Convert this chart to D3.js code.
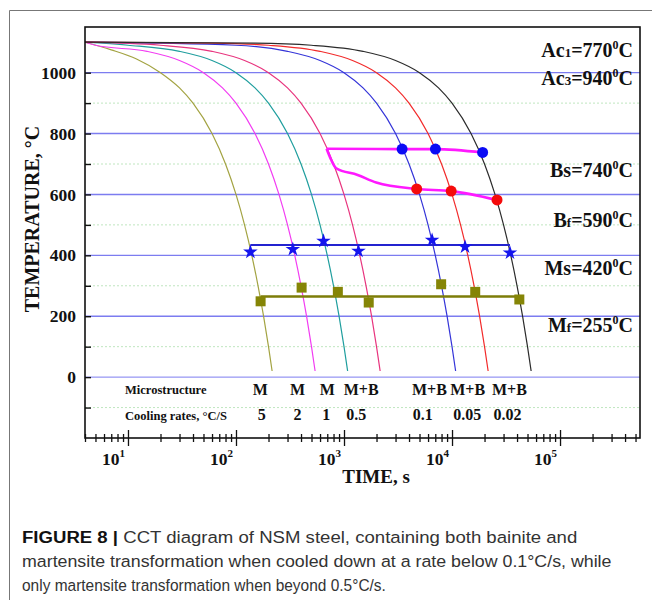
<!DOCTYPE html>
<html>
<head>
<meta charset="utf-8">
<script src="https://cdn.jsdelivr.net/npm/d3@7"></script>
<style>
  body { margin: 0; background: #fff; }
  svg { display: block; }
</style>
</head>
<body>
<div id="chart"></div>
<script>
// ---- data ----
// cooling rates (°C/s) and resulting microstructure
const rates = ["5", "2", "1", "0.5", "0.1", "0.05", "0.02"];
const micro = ["M", "M", "M", "M+B", "M+B", "M+B", "M+B"];

// cooling curves, [time s, temperature °C]
const curve5 = [[4, 1100], [7, 1075], [12, 1045], [20, 1000], [30, 950], [40, 900], [60, 800], [80, 700], [100, 600], [120, 500], [140, 400], [160, 300], [180, 200], [200, 100], [216, 20]];
const curve2 = [[4, 1100], [5, 1090], [15, 1070], [30, 1040], [50, 1000], [75, 950], [100, 900], [150, 800], [200, 700], [250, 600], [300, 500], [350, 400], [400, 300], [450, 200], [500, 100], [540, 20]];
const curve1 = [[4, 1100], [10, 1090], [30, 1070], [60, 1040], [100, 1000], [150, 950], [200, 900], [300, 800], [400, 700], [500, 600], [600, 500], [700, 400], [800, 300], [900, 200], [1000, 100], [1080, 20]];
const curve05 = [[4, 1100], [20, 1090], [60, 1070], [120, 1040], [200, 1000], [300, 950], [400, 900], [600, 800], [800, 700], [1000, 600], [1200, 500], [1400, 400], [1600, 300], [1800, 200], [2000, 100], [2160, 20]];
const curve01 = [[4, 1100], [100, 1090], [300, 1070], [600, 1040], [1000, 1000], [1500, 950], [2000, 900], [3000, 800], [4000, 700], [5000, 600], [6000, 500], [7000, 400], [8000, 300], [9000, 200], [10000, 100], [10800, 20]];
const curve005 = [[4, 1100], [60, 1097], [200, 1090], [600, 1070], [1200, 1040], [2000, 1000], [3000, 950], [4000, 900], [6000, 800], [8000, 700], [10000, 600], [12000, 500], [14000, 400], [16000, 300], [18000, 200], [20000, 100], [21600, 20]];
const curve002 = [[4, 1100], [150, 1097], [500, 1090], [1500, 1070], [3000, 1040], [5000, 1000], [7500, 950], [10000, 900], [15000, 800], [20000, 700], [25000, 600], [30000, 500], [35000, 400], [40000, 300], [45000, 200], [50000, 100], [54000, 20]];

// bainite start / finish
const bsLine = [[690, 750], [3450, 749], [7020, 749], [19200, 738]];
const bsPoints = [[3450, 749], [7020, 749], [19200, 738]];
const bfLine = [[690, 750], [762, 713], [847, 686], [1337, 664], [1987, 639], [4710, 618], [9820, 611], [26100, 582]];
const bfPoints = [[4710, 618], [9820, 611], [26100, 582]];

// martensite start / finish
const msTimes = [136, 336, 646, 1361, 6540, 13200, 34400];
const msTemps = [411, 420, 447, 414, 450, 428, 408];
const msLevel = 434;
const mfTimes = [169, 405, 877, 1694, 7930, 16400, 42000];
const mfTemps = [249, 294, 280, 245, 305, 280, 255];
const mfLevel = 265;

// where the table labels sit on the time axis
const microAt = [168, 372, 700, 1442, 6180, 13960, 33950];
const rateAt = [173, 372, 684, 1297, 5360, 13800, 32700];

// axis ticks
const yMajor = [0, 200, 400, 600, 800, 1000];
const yMinor = [-100, 100, 300, 500, 700, 900];
const xPowers = [1, 2, 3, 4, 5];

// critical temperatures shown on the right
const phaseLabels = [
    { name: "Ac", sub: "1", value: "770" },
    { name: "Ac", sub: "3", value: "940" },
    { name: "B", sub: "s", value: "740" },
    { name: "B", sub: "f", value: "590" },
    { name: "M", sub: "s", value: "420" },
    { name: "M", sub: "f", value: "255" }
];

const captionLines = [
    "CCT diagram of NSM steel, containing both bainite and",
    "martensite transformation when cooled down at a rate below 0.1°C/s, while",
    "only martensite transformation when beyond 0.5°C/s."
];

// ---- drawing ----
const curves = [curve5, curve2, curve1, curve05, curve01, curve005, curve002];
const curveColors = ["#a3a342", "#f23cf2", "#1f9e9e", "#e8347e", "#3434d8", "#f22a2a", "#2b2b2b"];
const serif = "'Liberation Serif', 'Times New Roman', serif";

const W = 652, H = 600;
const plot = { left: 85, top: 27, right: 640, bottom: 438 };

const svg = d3.select("#chart").append("svg")
    .attr("width", W)
    .attr("height", H);

svg.append("rect").attr("width", W).attr("height", H).attr("fill", "#fff");

// outer figure frame
svg.append("path")
    .attr("d", `M9.5,${H} V10.5 H${W}`)
    .attr("fill", "none")
    .attr("stroke", "#777")
    .attr("stroke-width", 1);

const x = d3.scaleLog().domain([4, 5.5e5]).range([plot.left, plot.right]);
const y = d3.scaleLinear().domain([-200, 1150]).range([plot.bottom, plot.top]);

svg.append("clipPath").attr("id", "clip")
    .append("rect")
    .attr("x", plot.left).attr("y", plot.top)
    .attr("width", plot.right - plot.left).attr("height", plot.bottom - plot.top);

// horizontal grid
svg.append("g").selectAll("line")
    .data(yMinor)
    .join("line")
    .attr("x1", plot.left).attr("x2", plot.right)
    .attr("y1", d => y(d)).attr("y2", d => y(d))
    .attr("stroke", "#bfe6bf")
    .attr("stroke-dasharray", "2,2");

svg.append("g").selectAll("line")
    .data(yMajor)
    .join("line")
    .attr("x1", plot.left).attr("x2", plot.right)
    .attr("y1", d => y(d)).attr("y2", d => y(d))
    .attr("stroke", "#7c7cf0")
    .attr("stroke-width", d => d === 0 ? 1 : 1.4);

// cooling curves
const line = d3.line()
    .x(d => x(d[0]))
    .y(d => y(d[1]))
    .curve(d3.curveMonotoneX);

const curveG = svg.append("g").attr("clip-path", "url(#clip)");
curveG.selectAll("path")
    .data(curves)
    .join("path")
    .attr("d", line)
    .attr("fill", "none")
    .attr("stroke", (d, i) => curveColors[i])
    .attr("stroke-width", 1.2);

// bainite lines
curveG.append("path").attr("d", line(bsLine))
    .attr("fill", "none").attr("stroke", "#ff19ff").attr("stroke-width", 2.6);
curveG.append("path").attr("d", line(bfLine))
    .attr("fill", "none").attr("stroke", "#ff19ff").attr("stroke-width", 2.6);

// martensite lines
curveG.append("line")
    .attr("x1", x(d3.min(msTimes))).attr("x2", x(d3.max(msTimes)))
    .attr("y1", y(msLevel)).attr("y2", y(msLevel))
    .attr("stroke", "#2323cf").attr("stroke-width", 2);
curveG.append("line")
    .attr("x1", x(d3.min(mfTimes))).attr("x2", x(d3.max(mfTimes)))
    .attr("y1", y(mfLevel)).attr("y2", y(mfLevel))
    .attr("stroke", "#7d7d08").attr("stroke-width", 2.6);

// markers
svg.append("g").selectAll("circle")
    .data(bsPoints)
    .join("circle")
    .attr("cx", d => x(d[0])).attr("cy", d => y(d[1]))
    .attr("r", 5.5)
    .attr("fill", "#0b0bf5");

svg.append("g").selectAll("circle")
    .data(bfPoints)
    .join("circle")
    .attr("cx", d => x(d[0])).attr("cy", d => y(d[1]))
    .attr("r", 5.5)
    .attr("fill", "#f50b0b");

const star = d3.symbol().type(d3.symbolStar).size(66);
svg.append("g").selectAll("path")
    .data(msTimes)
    .join("path")
    .attr("d", star)
    .attr("transform", (d, i) => `translate(${x(d)},${y(msTemps[i])})`)
    .attr("fill", "#1414ee");

const square = d3.symbol().type(d3.symbolSquare).size(100);
svg.append("g").selectAll("path")
    .data(mfTimes)
    .join("path")
    .attr("d", square)
    .attr("transform", (d, i) => `translate(${x(d)},${y(mfTemps[i])})`)
    .attr("fill", "#858506");

// plot frame
svg.append("rect")
    .attr("x", plot.left).attr("y", plot.top)
    .attr("width", plot.right - plot.left).attr("height", plot.bottom - plot.top)
    .attr("fill", "none")
    .attr("stroke", "#111")
    .attr("stroke-width", 1.6);

// y axis: inward ticks, labels on major values
const yAxis = svg.append("g")
    .attr("transform", `translate(${plot.left},0)`)
    .call(d3.axisLeft(y)
        .tickValues(yMajor.concat(yMinor))
        .tickSizeInner(-6)
        .tickSizeOuter(0)
        .tickPadding(9)
        .tickFormat(d => yMajor.includes(d) ? d : ""));
yAxis.select(".domain").remove();
yAxis.selectAll(".tick line").attr("stroke", "#111").attr("stroke-width", 1.4);
yAxis.selectAll(".tick text")
    .attr("font-family", serif)
    .attr("font-weight", "bold")
    .attr("font-size", 17.5)
    .attr("fill", "#111");

// x axis: ticks crossing the axis line
const xAxis = svg.append("g")
    .attr("transform", `translate(0,${plot.bottom})`)
    .call(d3.axisBottom(x).ticks(8).tickSize(0).tickFormat(""));
xAxis.select(".domain").remove();
xAxis.selectAll(".tick line")
    .attr("y1", d => Number.isInteger(Math.log10(d)) ? -8 : -4)
    .attr("y2", d => Number.isInteger(Math.log10(d)) ? 8 : 4)
    .attr("stroke", "#111")
    .attr("stroke-width", 1.3);

const xLab = svg.append("g").selectAll("text")
    .data(xPowers)
    .join("text")
    .attr("x", d => x(Math.pow(10, d)) - 3)
    .attr("y", 465)
    .attr("text-anchor", "end")
    .attr("font-family", serif)
    .attr("font-weight", "bold")
    .attr("font-size", 17.5)
    .attr("fill", "#111");
xLab.append("tspan").text("10");
xLab.append("tspan").attr("dy", -8).attr("font-size", 11).text(d => d);

// axis titles
svg.append("text")
    .attr("transform", "translate(39,219) rotate(-90)")
    .attr("text-anchor", "middle")
    .attr("font-family", serif)
    .attr("font-weight", "bold")
    .attr("font-size", 20)
    .attr("fill", "#111")
    .text("TEMPERATURE, °C");

svg.append("text")
    .attr("x", 376).attr("y", 483)
    .attr("text-anchor", "middle")
    .attr("font-family", serif)
    .attr("font-weight", "bold")
    .attr("font-size", 19)
    .attr("fill", "#111")
    .text("TIME, s");

// critical temperature labels
const labelBase = [57, 85, 177, 227, 275, 332];
const phase = svg.append("g").selectAll("text")
    .data(phaseLabels)
    .join("text")
    .attr("x", 633)
    .attr("y", (d, i) => labelBase[i])
    .attr("text-anchor", "end")
    .attr("font-family", serif)
    .attr("font-weight", "bold")
    .attr("font-size", 20)
    .attr("fill", "#111");
phase.append("tspan").text(d => d.name);
phase.append("tspan")
    .attr("font-size", d => d.sub === "s" ? 20 : 13)
    .text(d => d.sub);
phase.append("tspan").text(d => "=" + d.value);
phase.append("tspan").attr("dy", -8).attr("font-size", 12).text("0");
phase.append("tspan").attr("dy", 8).text("C");

// microstructure / cooling rate table
svg.append("text")
    .attr("x", 125).attr("y", 394)
    .attr("font-family", serif).attr("font-weight", "bold")
    .attr("font-size", 12.5).attr("fill", "#111")
    .text("Microstructure");
svg.append("text")
    .attr("x", 125).attr("y", 420)
    .attr("font-family", serif).attr("font-weight", "bold")
    .attr("font-size", 12.5).attr("fill", "#111")
    .text("Cooling rates, °C/S");

svg.append("g").selectAll("text")
    .data(micro)
    .join("text")
    .attr("x", (d, i) => x(microAt[i]))
    .attr("y", 395)
    .attr("text-anchor", "middle")
    .attr("font-family", serif).attr("font-weight", "bold")
    .attr("font-size", 16).attr("fill", "#111")
    .text(d => d);

svg.append("g").selectAll("text")
    .data(rates)
    .join("text")
    .attr("x", (d, i) => x(rateAt[i]))
    .attr("y", 420)
    .attr("text-anchor", "middle")
    .attr("font-family", serif).attr("font-weight", "bold")
    .attr("font-size", 16).attr("fill", "#111")
    .text(d => d);

// caption, each line squeezed to the width of the printed line
const capFont = "'Liberation Sans Narrow', 'Liberation Sans', Arial, sans-serif";
const capBase = [543, 567, 591];
const capRight = [578, 612, 386];
const capLeft = 22;

captionLines.forEach((txt, i) => {
    const g = svg.append("g");
    const t = g.append("text")
        .attr("font-family", capFont)
        .attr("font-size", 17)
        .attr("fill", "#333");
    if (i === 0) {
        t.append("tspan").attr("font-weight", "bold").attr("fill", "#111").text("FIGURE 8 | ");
    }
    t.append("tspan").text(txt);
    const k = (capRight[i] - capLeft) / t.node().getComputedTextLength();
    g.attr("transform", `translate(${capLeft},${capBase[i]}) scale(${k},1)`);
});
</script>
</body>
</html>
